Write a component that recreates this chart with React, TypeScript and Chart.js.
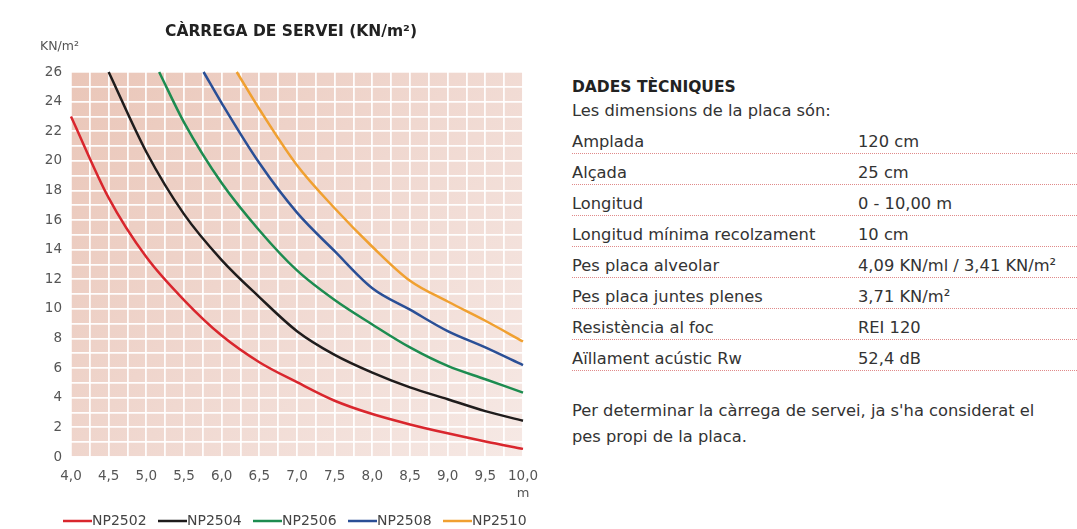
import React, { useEffect, useRef } from "react";
import { Chart, registerables } from "chart.js";

Chart.register(...registerables);

// ---- data ----
const xValues = [4.0, 4.5, 5.0, 5.5, 6.0, 6.5, 7.0, 7.5, 8.0, 8.5, 9.0, 9.5, 10.0];
const seriesNames = ["NP2502", "NP2504", "NP2506", "NP2508", "NP2510"];
const seriesColors = ["#d9262d", "#1f1c1c", "#1d8c50", "#2a4f96", "#f0a030"];

// first point of each curve where it enters the plot (x, y)
const np2502Start = [4.0, 23.0];
const np2504Start = [4.5, 26.0];
const np2506Start = [5.17, 26.0];
const np2508Start = [5.76, 26.0];
const np2510Start = [6.2, 26.0];

// values at xValues (null = off the chart)
const np2502 = [23.0, 17.5, 13.5, 10.6, 8.2, 6.4, 5.05, 3.8, 2.9, 2.2, 1.6, 1.05, 0.55];
const np2504 = [null, 26.0, 20.6, 16.4, 13.3, 10.8, 8.5, 6.9, 5.7, 4.7, 3.9, 3.1, 2.45];
const np2506 = [null, null, null, 22.6, 18.5, 15.3, 12.6, 10.6, 8.95, 7.4, 6.15, 5.25, 4.35];
const np2508 = [null, null, null, null, 23.9, 19.85, 16.5, 13.9, 11.4, 9.95, 8.5, 7.4, 6.2];
const np2510 = [null, null, null, null, null, 23.5, 19.7, 16.8, 14.2, 11.9, 10.5, 9.2, 7.8];

const yTickLabels = ["0", "2", "4", "6", "8", "10", "12", "14", "16", "18", "20", "22", "24", "26"];

const techRows: [string, string][] = [
  ["Amplada", "120 cm"],
  ["Alçada", "25 cm"],
  ["Longitud", "0 - 10,00 m"],
  ["Longitud mínima recolzament", "10 cm"],
  ["Pes placa alveolar", "4,09 KN/ml / 3,41 KN/m²"],
  ["Pes placa juntes plenes", "3,71 KN/m²"],
  ["Resistència al foc", "REI 120"],
  ["Aïllament acústic Rw", "52,4 dB"],
];

const FONT = "'DejaVu Sans', sans-serif";

function buildPoints(start: number[], vals: (number | null)[]) {
  const pts: { x: number; y: number }[] = [];
  pts.push({ x: start[0], y: start[1] });
  xValues.forEach((x, i) => {
    const v = vals[i];
    if (v !== null && x > start[0]) pts.push({ x, y: v });
  });
  return pts;
}

const bgPlugin = {
  id: "bgPlugin",
  beforeDraw(chart: any) {
    const { ctx, chartArea: a } = chart;
    const g = ctx.createLinearGradient(a.left, a.top, a.right, a.bottom);
    g.addColorStop(0, "#eac6b8");
    g.addColorStop(0.5, "#f0d8d0");
    g.addColorStop(1, "#f6e9e5");
    ctx.save();
    ctx.fillStyle = g;
    ctx.fillRect(a.left, a.top, a.right - a.left, a.bottom - a.top);
    ctx.restore();
  },
};

const textPlugin = {
  id: "textPlugin",
  afterDraw(chart: any) {
    const { ctx, chartArea: a } = chart;
    ctx.save();
    ctx.fillStyle = "#222";
    ctx.font = `bold 15.5px ${FONT}`;
    ctx.textAlign = "center";
    ctx.textBaseline = "alphabetic";
    ctx.fillText("CÀRREGA DE SERVEI (KN/m²)", 291, 36);
    ctx.fillStyle = "#555";
    ctx.font = `12.5px ${FONT}`;
    ctx.textAlign = "left";
    ctx.fillText("KN/m²", 40, 50);
    ctx.textAlign = "center";
    ctx.font = `13px ${FONT}`;
    ctx.fillText("m", a.right, 497);
    // legend
    ctx.font = `14px ${FONT}`;
    ctx.textAlign = "left";
    ctx.textBaseline = "middle";
    chart.data.datasets.forEach((ds: any, i: number) => {
      const x0 = 63 + i * 95;
      ctx.strokeStyle = ds.borderColor;
      ctx.lineWidth = 2.5;
      ctx.beginPath();
      ctx.moveTo(x0, 521);
      ctx.lineTo(x0 + 29, 521);
      ctx.stroke();
      ctx.fillStyle = "#444";
      ctx.fillText(ds.label, x0 + 29, 521);
    });
    ctx.restore();
  },
};

function ChartCanvas() {
  const ref = useRef<HTMLCanvasElement>(null);
  useEffect(() => {
    if (!ref.current) return;
    const starts = [np2502Start, np2504Start, np2506Start, np2508Start, np2510Start];
    const vals = [np2502, np2504, np2506, np2508, np2510];
    const chart = new Chart(ref.current, {
      type: "line",
      data: {
        datasets: seriesNames.map((name, i) => ({
          label: name,
          data: buildPoints(starts[i], vals[i]),
          borderColor: seriesColors[i],
          backgroundColor: seriesColors[i],
          borderWidth: 2.5,
          pointRadius: 0,
          tension: 0.4,
          cubicInterpolationMode: "monotone" as const,
          fill: false,
          clip: 2,
        })),
      },
      options: {
        animation: false,
        responsive: false,
        maintainAspectRatio: false,
        layout: { padding: { top: 72, bottom: 42, left: 0, right: 37 } },
        plugins: { legend: { display: false }, tooltip: { enabled: false }, title: { display: false } },
        scales: {
          x: {
            type: "linear",
            min: 4,
            max: 10,
            border: { display: false },
            grid: { color: "rgba(255,255,255,0.95)", lineWidth: 1.8, drawTicks: false },
            afterFit: (s: any) => { s.height = 30; },
            ticks: {
              stepSize: 0.25,
              autoSkip: false,
              maxRotation: 0,
              padding: 11,
              color: "#555",
              font: { family: FONT, size: 13.5 },
              callback: (v: any) => {
                const n = Number(v);
                if (Math.abs(n * 2 - Math.round(n * 2)) > 1e-6) return "";
                return n.toFixed(1).replace(".", ",");
              },
            },
          },
          y: {
            type: "linear",
            min: 0,
            max: 26,
            border: { display: false },
            grid: { color: "rgba(255,255,255,0.95)", lineWidth: 1.8, drawTicks: false },
            afterFit: (s: any) => { s.width = 71; },
            ticks: {
              stepSize: 1,
              autoSkip: false,
              padding: 9,
              color: "#555",
              font: { family: FONT, size: 13.5 },
              callback: (v: any) => {
                const n = Number(v);
                return n % 2 === 0 ? yTickLabels[n / 2] : "";
              },
            },
          },
        },
      },
      plugins: [bgPlugin, textPlugin],
    });
    return () => chart.destroy();
  }, []);
  return <canvas ref={ref} width={560} height={529} style={{ position: "absolute", left: 0, top: 0 }} />;
}

export default function App() {
  const rowStyle: React.CSSProperties = {
    position: "absolute",
    left: 572,
    width: 505,
    height: 30,
    borderBottom: "1px dotted #e08a8a",
    boxSizing: "border-box",
  };
  return (
    <div
      style={{
        position: "absolute",
        left: 0,
        top: 0,
        width: 1077,
        height: 529,
        background: "#fff",
        overflow: "hidden",
        fontFamily: FONT,
        color: "#333",
      }}
    >
      <ChartCanvas />
      <div style={{ position: "absolute", left: 572, top: 78, fontWeight: "bold", fontSize: 15.5, color: "#222" }}>
        DADES TÈCNIQUES
      </div>
      <div style={{ position: "absolute", left: 572, top: 101, fontSize: 16.3 }}>Les dimensions de la placa són:</div>
      {techRows.map(([k, v], i) => (
        <div key={k} style={{ ...rowStyle, top: 124 + i * 31 }}>
          <span style={{ position: "absolute", left: 0, top: 8, fontSize: 16.3, whiteSpace: "nowrap" }}>{k}</span>
          <span style={{ position: "absolute", left: 286, top: 8, fontSize: 16.3, whiteSpace: "nowrap" }}>{v}</span>
        </div>
      ))}
      <div style={{ position: "absolute", left: 572, top: 398, fontSize: 16.3, lineHeight: "26px", width: 500 }}>
        Per determinar la càrrega de servei, ja s'ha considerat el
        <br />
        pes propi de la placa.
      </div>
    </div>
  );
}
